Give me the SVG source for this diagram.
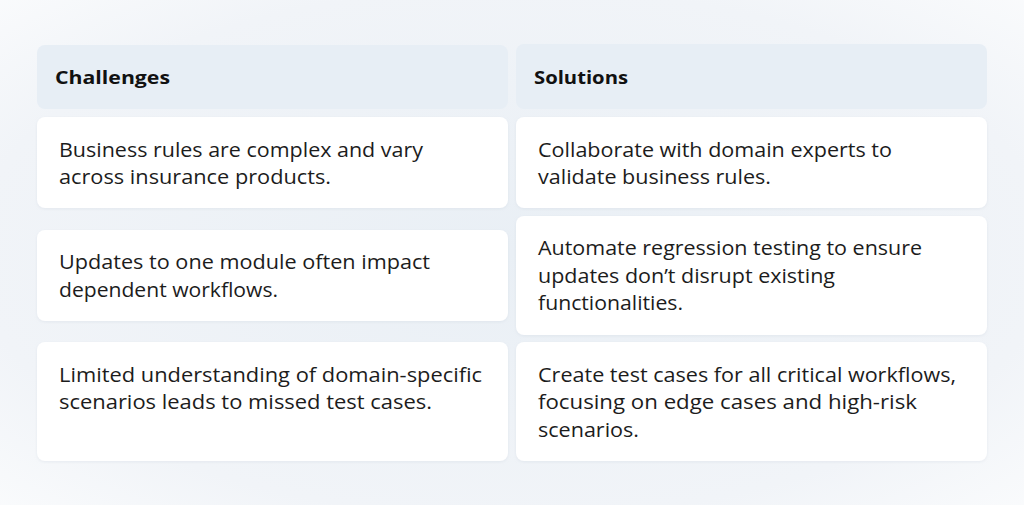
<svg xmlns="http://www.w3.org/2000/svg" width="1024" height="505" viewBox="0 0 1024 505">
<defs>
<radialGradient id="bg" cx="0.5" cy="0.5" r="0.75">
<stop offset="0" stop-color="#e9eff5"/>
<stop offset="0.7" stop-color="#f1f4f8"/>
<stop offset="1" stop-color="#fbfcfd"/>
</radialGradient>
<filter id="sh" x="-5%" y="-10%" width="110%" height="130%">
<feDropShadow dx="0" dy="1" stdDeviation="1.5" flood-color="#b8c4d2" flood-opacity="0.25"/>
</filter>
<style>
.hd{fill:#e7eef5}
.cell{fill:#ffffff;filter:url(#sh)}
.ht{font-family:"Open Sans","Liberation Sans",sans-serif;font-weight:700;font-size:18px;fill:#111111}
.bt{font-family:"Open Sans","Liberation Sans",sans-serif;font-size:19.5px;fill:#1c1c1c}
</style>
</defs>
<rect width="1024" height="505" fill="url(#bg)"/>
<g id="header-challenges">
<rect class="hd" x="37" y="45" width="471" height="64" rx="8"/>
<text class="ht" x="55" y="84" textLength="115" lengthAdjust="spacingAndGlyphs">Challenges</text>
</g>
<g id="header-solutions">
<rect class="hd" x="516" y="44" width="471" height="65" rx="8"/>
<text class="ht" x="534" y="84" textLength="94" lengthAdjust="spacingAndGlyphs">Solutions</text>
</g>
<g id="challenge-1">
<rect class="cell" x="37" y="117" width="471" height="91" rx="8"/>
<text class="bt" x="59" y="157" textLength="364" lengthAdjust="spacingAndGlyphs">Business rules are complex and vary</text>
<text class="bt" x="59" y="184" textLength="272" lengthAdjust="spacingAndGlyphs">across insurance products.</text>
</g>
<g id="challenge-2">
<rect class="cell" x="37" y="230" width="471" height="91" rx="8"/>
<text class="bt" x="59" y="269" textLength="371" lengthAdjust="spacingAndGlyphs">Updates to one module often impact</text>
<text class="bt" x="59" y="297" textLength="219" lengthAdjust="spacingAndGlyphs">dependent workflows.</text>
</g>
<g id="challenge-3">
<rect class="cell" x="37" y="342" width="471" height="119" rx="8"/>
<text class="bt" x="59" y="382" textLength="423" lengthAdjust="spacingAndGlyphs">Limited understanding of domain-specific</text>
<text class="bt" x="59" y="409" textLength="373" lengthAdjust="spacingAndGlyphs">scenarios leads to missed test cases.</text>
</g>
<g id="solution-1">
<rect class="cell" x="516" y="117" width="471" height="91" rx="8"/>
<text class="bt" x="538" y="157" textLength="354" lengthAdjust="spacingAndGlyphs">Collaborate with domain experts to</text>
<text class="bt" x="538" y="184" textLength="233" lengthAdjust="spacingAndGlyphs">validate business rules.</text>
</g>
<g id="solution-2">
<rect class="cell" x="516" y="216" width="471" height="119" rx="8"/>
<text class="bt" x="538" y="255" textLength="384" lengthAdjust="spacingAndGlyphs">Automate regression testing to ensure</text>
<text class="bt" x="538" y="283" textLength="297" lengthAdjust="spacingAndGlyphs">updates don’t disrupt existing</text>
<text class="bt" x="538" y="310" textLength="145" lengthAdjust="spacingAndGlyphs">functionalities.</text>
</g>
<g id="solution-3">
<rect class="cell" x="516" y="342" width="471" height="119" rx="8"/>
<text class="bt" x="538" y="382" textLength="418" lengthAdjust="spacingAndGlyphs">Create test cases for all critical workflows,</text>
<text class="bt" x="538" y="409" textLength="379" lengthAdjust="spacingAndGlyphs">focusing on edge cases and high-risk</text>
<text class="bt" x="538" y="437" textLength="101" lengthAdjust="spacingAndGlyphs">scenarios.</text>
</g>
<g id="connectors"></g>
</svg>
